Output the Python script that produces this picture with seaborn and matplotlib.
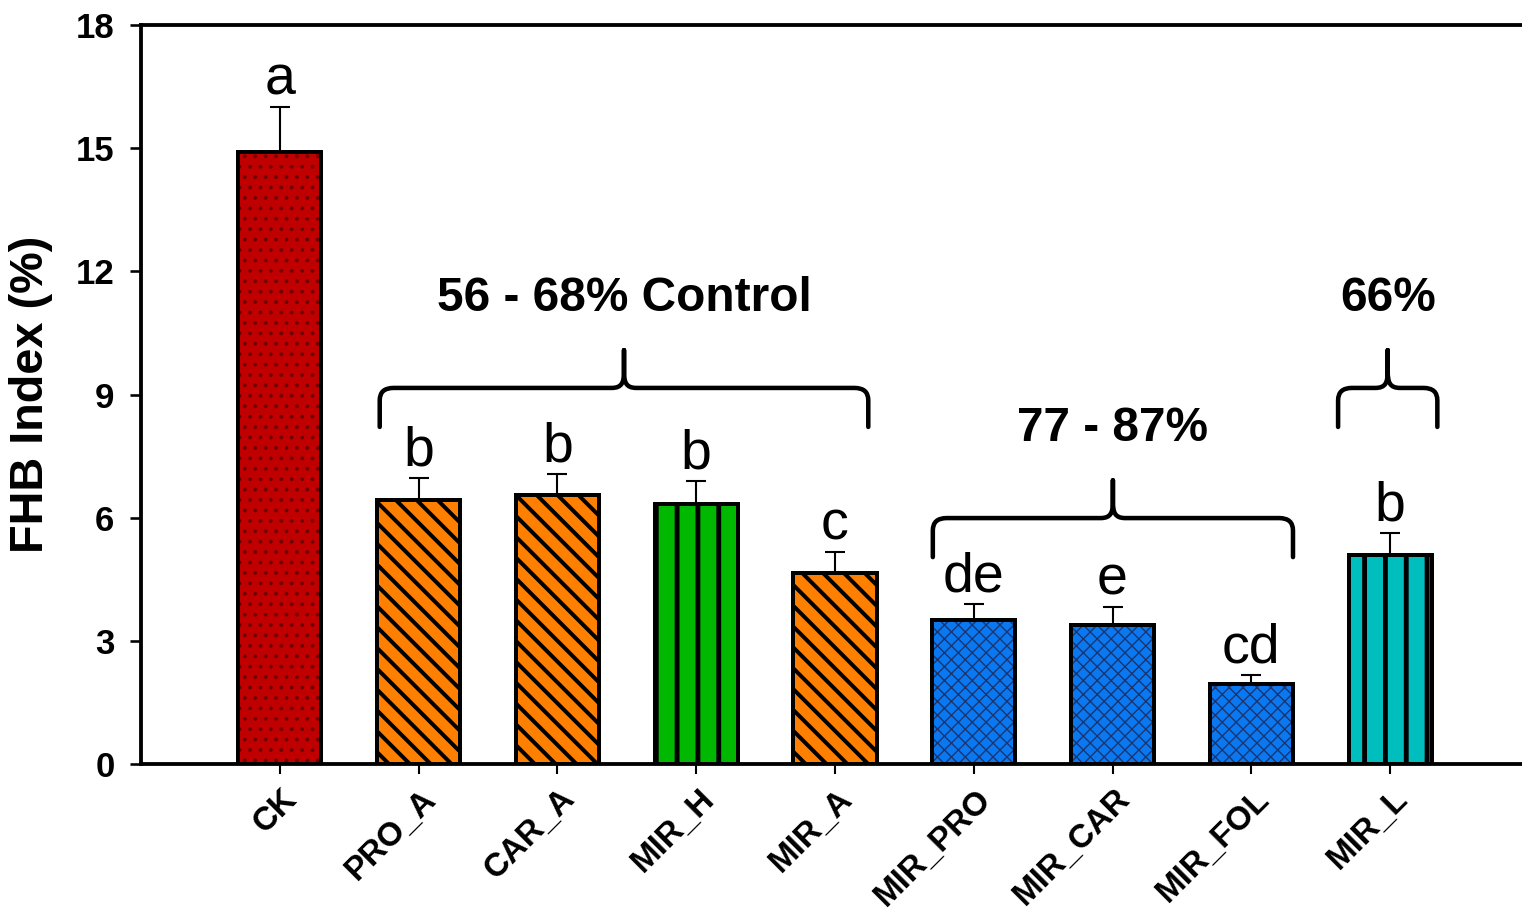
import numpy as np
import matplotlib
matplotlib.use("Agg")
import matplotlib.pyplot as plt
import matplotlib.transforms as mtransforms
from matplotlib.path import Path
from matplotlib.patches import PathPatch, Rectangle
import seaborn as sns

# FHB index per treatment (mean and upper error)
categories = ["CK", "PRO_A", "CAR_A", "MIR_H", "MIR_A",
              "MIR_PRO", "MIR_CAR", "MIR_FOL", "MIR_L"]
fhb_index = [14.9, 6.43, 6.55, 6.33, 4.65, 3.51, 3.39, 1.95, 5.09]
fhb_error = [1.1, 0.54, 0.51, 0.56, 0.51, 0.39, 0.43, 0.22, 0.54]
group_letters = ["a", "b", "b", "b", "c", "de", "e", "cd", "b"]

# Bracketed groups: (first category, last category, label)
groups = [("PRO_A", "MIR_A", "56 - 68% Control"),
          ("MIR_PRO", "MIR_FOL", "77 - 87%"),
          ("MIR_L", "MIR_L", "66%")]
group_brace_level = [9.16, 5.99, 9.16]

# Styling
fill_colors = ["#C00000", "#FF8000", "#FF8000", "#00B800", "#FF8000",
               "#0A78F0", "#0A78F0", "#0A78F0", "#00BEBE"]
hatch_styles = ["..", "\\\\", "\\\\", "|", "\\\\", "xxx", "xxx", "xxx", "|"]
hatch_colors = ["#6E0000", "black", "black", "black", "black",
                "#1B3570", "#1B3570", "#1B3570", "black"]
hatch_widths = [1.0, 2.3, 2.3, 2.8, 2.3, 0.8, 0.8, 0.8, 2.8]
brace_pads = [(0.28, 0.24), (0.295, 0.30), (0.375, 0.34)]

sns.set_theme(style="white")
plt.rcParams["font.family"] = ["Liberation Sans", "DejaVu Sans"]

DPI = 125
fig = plt.figure(figsize=(1522 / DPI, 912 / DPI), dpi=DPI)
ax = fig.add_axes([141 / 1522, 148 / 912, 1381 / 1522, 739 / 912])

sns.barplot(x=categories, y=fhb_index, hue=categories, palette=fill_colors,
            legend=False, width=0.6, saturation=1, linewidth=0, ax=ax,
            errorbar=None, zorder=3)

for patch, hs, hc, hw in zip(ax.patches, hatch_styles, hatch_colors, hatch_widths):
    patch.set_edgecolor(hc)
    patch.set_linewidth(0)
    patch.set_hatch(hs)
    if hasattr(patch, "set_hatch_linewidth"):
        patch.set_hatch_linewidth(hw)
    ax.add_patch(Rectangle(patch.get_xy(), patch.get_width(), patch.get_height(),
                           facecolor="none", edgecolor="black", linewidth=2.3,
                           joinstyle="miter", zorder=4))

xpos = np.arange(len(categories))
ax.errorbar(xpos, fhb_index, yerr=[np.zeros(len(xpos)), fhb_error], fmt="none",
            ecolor="black", elinewidth=1.2, capsize=6, capthick=1.2, zorder=2)

for x, v, e, lab in zip(xpos, fhb_index, fhb_error, group_letters):
    ax.text(x, v + e + 0.3, lab, ha="center", va="baseline", fontsize=32,
            color="black", zorder=5)


def brace(ax, x0, x1, ybar, drop=0.95, rise=0.92, rx=0.10, ry=0.30, tip=0.09):
    xm = (x0 + x1) / 2
    verts = [
        (x0, ybar - drop), (x0, ybar - ry),
        (x0, ybar), (x0 + rx, ybar),
        (xm - tip, ybar),
        (xm - tip * 0.15, ybar), (xm, ybar + rise * 0.15), (xm, ybar + rise * 0.45),
        (xm, ybar + rise),
        (xm, ybar + rise * 0.45),
        (xm, ybar + rise * 0.15), (xm + tip * 0.15, ybar), (xm + tip, ybar),
        (x1 - rx, ybar),
        (x1, ybar), (x1, ybar - ry),
        (x1, ybar - drop),
    ]
    codes = [Path.MOVETO, Path.LINETO,
             Path.CURVE3, Path.CURVE3,
             Path.LINETO,
             Path.CURVE4, Path.CURVE4, Path.CURVE4,
             Path.LINETO,
             Path.LINETO,
             Path.CURVE4, Path.CURVE4, Path.CURVE4,
             Path.LINETO,
             Path.CURVE3, Path.CURVE3,
             Path.LINETO]
    ax.add_patch(PathPatch(Path(verts, codes), facecolor="none", edgecolor="black",
                           linewidth=2.6, capstyle="round", joinstyle="round",
                           zorder=5))
    return xm, ybar + rise


for (first, last, label), level, (pl, pr) in zip(groups, group_brace_level, brace_pads):
    i0, i1 = categories.index(first), categories.index(last)
    xm, ytop = brace(ax, i0 - pl, i1 + pr, level)
    ax.text(xm, ytop + 1.25, label, ha="center", va="center", fontsize=27.5,
            fontweight="bold", color="black")

ax.set_xlim(-1.0, 8.95)
ax.set_ylim(0, 18)
ax.set_yticks(np.arange(0, 19, 3))
ax.set_xlabel("")
ax.set_ylabel("FHB Index (%)", fontsize=27, fontweight="bold", color="black")
ax.yaxis.set_label_coords(-0.0635, 0.5)

for side in ["left", "bottom", "top"]:
    ax.spines[side].set_visible(True)
    ax.spines[side].set_color("black")
    ax.spines[side].set_linewidth(2.2)
ax.spines["right"].set_visible(False)

ax.tick_params(axis="y", which="major", left=True, direction="out", length=6.3,
               width=1.5, pad=9, labelsize=20, colors="black")
ax.tick_params(axis="x", which="major", bottom=True, direction="out", length=6,
               width=1.2, pad=5, labelsize=19, colors="black")
for lab in ax.get_yticklabels():
    lab.set_fontweight("bold")
shift = mtransforms.ScaledTranslation(2 / DPI, 0, fig.dpi_scale_trans)
for lab in ax.get_xticklabels():
    lab.set_fontweight("bold")
    lab.set_rotation(45)
    lab.set_ha("right")
    lab.set_va("top")
    lab.set_rotation_mode("anchor")
    lab.set_transform(lab.get_transform() + shift)

ax.grid(False)
fig.savefig("out.png", dpi=DPI, facecolor="white")
